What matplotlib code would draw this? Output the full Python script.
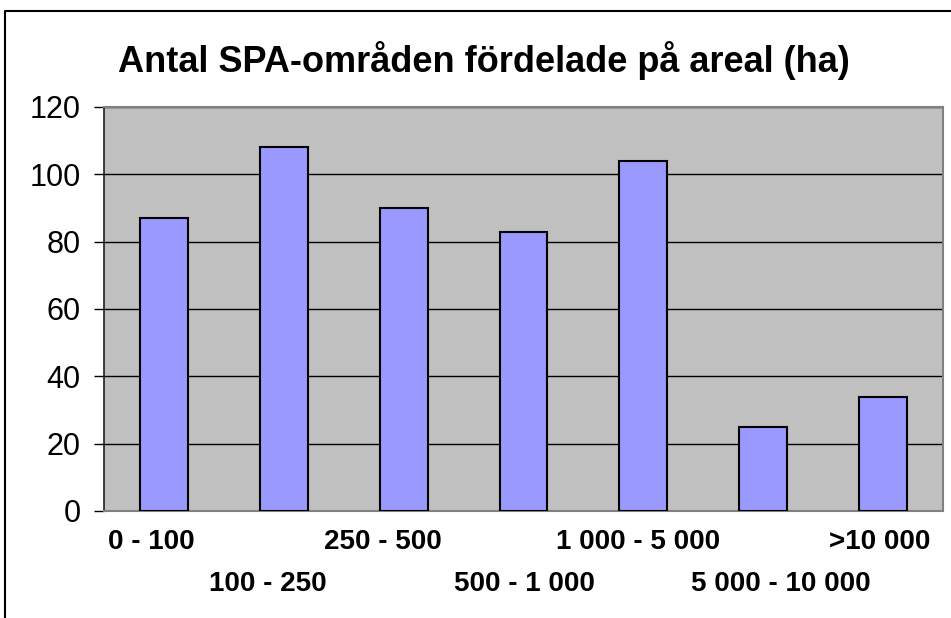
import matplotlib
matplotlib.use('Agg')
import matplotlib.pyplot as plt
from matplotlib.lines import Line2D
from matplotlib.transforms import ScaledTranslation

plt.rcParams['font.family'] = ['Liberation Sans', 'DejaVu Sans']

categories = ['0 - 100', '100 - 250', '250 - 500', '500 - 1 000',
              '1 000 - 5 000', '5 000 - 10 000', '>10 000']
counts = [87, 108, 90, 83, 104, 25, 34]
yticks = [0, 20, 40, 60, 80, 100, 120]

fig = plt.figure(figsize=(9.51, 6.18), dpi=100)
ax = fig.add_axes([104/951, 1 - 511/618, (943 - 104)/951, (511 - 107)/618])
ax.set_facecolor('#C0C0C0')

x = list(range(len(categories)))
ax.bar(x, counts, width=0.4, color='#9999FF', edgecolor='black', linewidth=1.5, zorder=3)

ax.set_xlim(-0.5, len(categories) - 0.5)
ax.set_ylim(0, 120)
ax.set_yticks(yticks)
ax.yaxis.grid(True, color='black', linewidth=1, zorder=1)
ax.set_axisbelow(True)
ax.tick_params(axis='y', direction='out', length=7, width=1, pad=10, labelsize=22)

# staggered category labels: even on first row, odd on second row
ax.set_xticks(x[0::2])
ax.set_xticklabels(categories[0::2], fontweight='bold', fontsize=20)
ax.set_xticks(x[1::2], minor=True)
ax.set_xticklabels(categories[1::2], minor=True, fontweight='bold', fontsize=20)
ax.tick_params(axis='x', which='major', length=0, pad=13)
ax.tick_params(axis='x', which='minor', length=0, pad=43)

offsets_major = [-13, -21, -5, -3]
offsets_minor = [-16, 1, 18]
for lbl, dx in zip(ax.get_xticklabels(), offsets_major):
    lbl.set_transform(lbl.get_transform() + ScaledTranslation(dx/100, 0, fig.dpi_scale_trans))
for lbl, dx in zip(ax.get_xticklabels(minor=True), offsets_minor):
    lbl.set_transform(lbl.get_transform() + ScaledTranslation(dx/100, 0, fig.dpi_scale_trans))

for side in ['top', 'right', 'bottom']:
    ax.spines[side].set_color('#808080')
    ax.spines[side].set_linewidth(1.5)
ax.spines['left'].set_color('#202020')
ax.spines['left'].set_linewidth(1.2)

fig.text(484/951, 1 - 60/618, 'Antal SPA-områden fördelade på areal (ha)',
         ha='center', va='center', fontsize=26, fontweight='bold')

# chart-area frame (only top and left edges visible)
fig.add_artist(Line2D([5/951, 5/951, 1.0], [0.0, 1 - 11/618, 1 - 11/618],
                      transform=fig.transFigure, color='black', linewidth=1.5))

fig.savefig('out.png', dpi=100)
